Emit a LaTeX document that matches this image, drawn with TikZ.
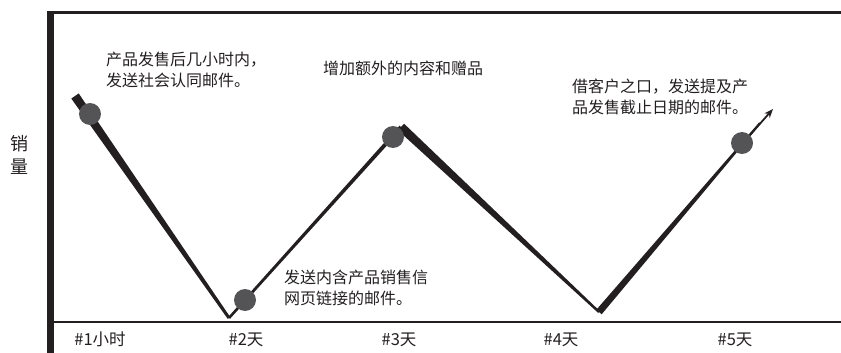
\documentclass[tikz,border=0pt]{standalone}
\usepackage{fontspec}
\setmainfont{Noto Sans CJK SC}
\usetikzlibrary{calc,arrows.meta}
\definecolor{ink}{HTML}{231F20}
\definecolor{dotc}{HTML}{545456}
\tikzset{
  dot/.style={circle, fill=dotc, minimum size=22pt, inner sep=0pt},
  note/.style={anchor=west, align=left, inner sep=0pt, font=\fontsize{16}{20.5}\selectfont, text=ink},
  tick/.style={anchor=center, inner sep=0pt, font=\fontsize{16.5}{18}\selectfont, text=ink},
}
\newcommand{\taperseg}[4]{%
  \fill[ink] ($(#1)!#3!90:(#2)$) -- ($(#2)!#4!-90:(#1)$) -- ($(#2)!#4!90:(#1)$) -- ($(#1)!#3!-90:(#2)$) -- cycle;}
\begin{document}
\begin{tikzpicture}[x=1pt,y=-1pt]
\useasboundingbox (0,0) rectangle (841,353);
% frame
\fill[ink] (47,11) rectangle (54,353);
\draw[ink, line width=3.5pt] (47,12.5) -- (841,12.5);
\draw[ink, line width=2pt] (54,322) -- (841,322);
% curve points
\coordinate (p1) at (75,96);
\coordinate (v1) at (229,318);
\coordinate (p2) at (401,127);
\coordinate (v2) at (599,312);
\coordinate (t4) at (760,123);
\coordinate (e4) at (773,109);
\taperseg{p1}{v1}{4.5pt}{1.5pt}
\taperseg{v1}{p2}{1.3pt}{2pt}
\taperseg{p2}{v2}{4.5pt}{1.2pt}
\taperseg{v2}{t4}{3.5pt}{1pt}
\draw[ink, line width=1.8pt, -{Stealth[length=9pt,width=7pt]}] ($(v2)!0.9!(t4)$) -- (e4);
% dots
\node[dot] (d1) at (90,114) {};
\node[dot] (d2) at (245,300) {};
\node[dot] (d3) at (393,137) {};
\node[dot] (d4) at (742,143) {};
% notes
\node[note] (n1) at (106,70) {产品发售后几小时内，\\发送社会认同邮件。};
\node[note] (n2) at (323,68) {增加额外的内容和赠品};
\node[note] (n3) at (572,97) {借客户之口，发送提及产\\品发售截止日期的邮件。};
\node[note] (n4) at (284,288) {发送内含产品销售信\\网页链接的邮件。};
% axis labels
\node[tick] (x1) at (100,339.5) {\#1小时};
\node[tick] (x2) at (246,339.5) {\#2天};
\node[tick] (x3) at (399,339.5) {\#3天};
\node[tick] (x4) at (561,339.5) {\#4天};
\node[tick] (x5) at (735,339.5) {\#5天};
\node[anchor=center, align=center, inner sep=0pt, font=\fontsize{18}{23}\selectfont, text=ink] (ylab) at (19,155) {销\\量};
\end{tikzpicture}
\end{document}
